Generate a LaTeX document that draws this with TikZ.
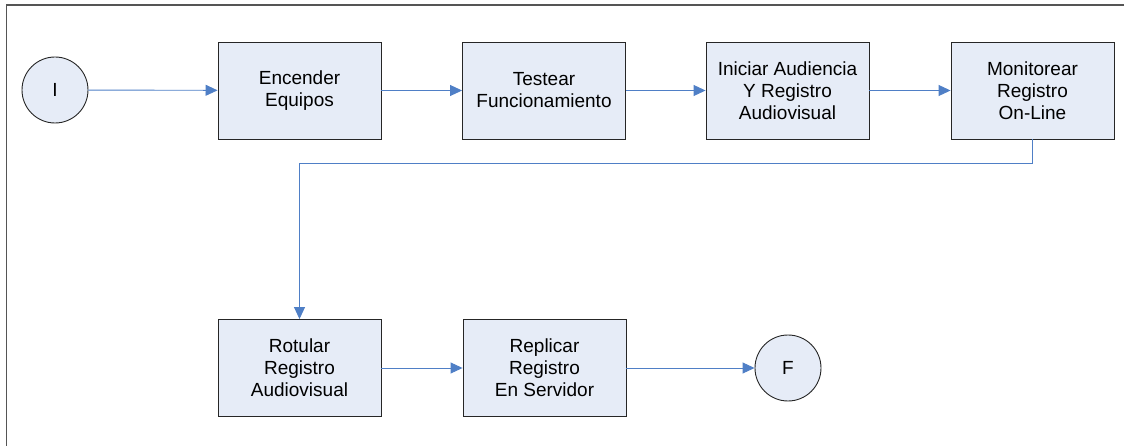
\documentclass[tikz,border=0pt]{standalone}
\usepackage{fontspec}
\setmainfont{Liberation Sans}
\usetikzlibrary{arrows.meta,positioning}
\definecolor{boxfill}{HTML}{E6ECF7}
\definecolor{flowblue}{HTML}{4F7FC6}
\definecolor{frameline}{HTML}{555555}
\tikzset{
  stepbox/.style={draw=black!85, fill=boxfill, line width=0.9pt, minimum width=163pt, minimum height=97pt,
    inner sep=0pt, align=center, font=\fontsize{19}{22}\selectfont},
  terminal/.style={draw=black!85, fill=boxfill, line width=0.9pt, circle, minimum size=66pt, inner sep=0pt,
    font=\fontsize{19}{22}\selectfont},
  flow/.style={draw=flowblue, line width=0.9pt, -{Triangle[length=12pt,width=11pt]}}
}
\begin{document}
\begin{tikzpicture}[x=1pt,y=-1pt]
\useasboundingbox (0,0) rectangle (1125,446);
% page frame
\draw[frameline, line width=1.2pt] (1124,5) -- (6.5,5) -- (6.5,446);

% first row
\node[terminal] (ini) at (55,90) {I};
\node[stepbox] (enc) at (299.5,90.5) {Encender\\Equipos};
\node[stepbox] (tes) at (544,90.5) {Testear\\Funcionamiento};
\node[stepbox] (aud) at (787.5,90.5) {Iniciar Audiencia\\Y Registro\\Audiovisual};
\node[stepbox] (mon) at (1032.5,90.5) {Monitorear\\Registro\\On-Line};

% second row
\node[stepbox] (rot) at (299.5,368) {Rotular\\Registro\\Audiovisual};
\node[stepbox] (rep) at (544.5,368) {Replicar\\Registro\\En Servidor};
\node[terminal] (fin) at (788,368) {F};

% connectors
\draw[flow] (ini) -- (enc);
\draw[flow] (enc) -- (tes);
\draw[flow] (tes) -- (aud);
\draw[flow] (aud) -- (mon);
\coordinate (bend) at (0,163);
\draw[flow] (mon.south) |- (bend -| rot.north) -- (rot.north);
\draw[flow] (rot) -- (rep);
\draw[flow] (rep) -- (fin);
\end{tikzpicture}
\end{document}
